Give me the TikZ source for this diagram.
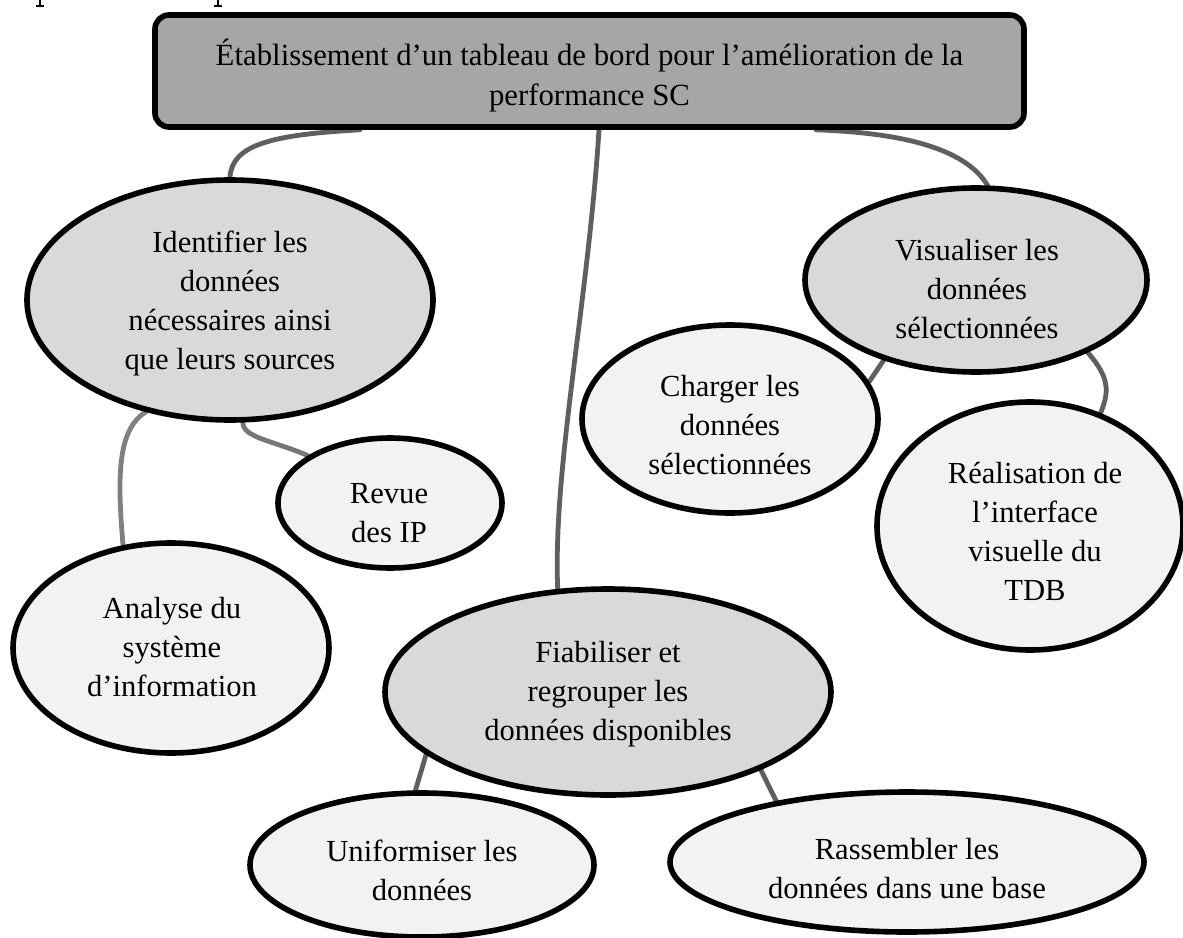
\documentclass[tikz,border=0pt]{standalone}
\usepackage{fontspec}
\setmainfont{Liberation Serif}
\usetikzlibrary{shapes.geometric,backgrounds}

\definecolor{boxgray}{HTML}{A6A6A6}
\definecolor{maingray}{HTML}{D9D9D9}
\definecolor{subgray}{HTML}{F2F2F2}
\definecolor{linkgray}{HTML}{5F5F5F}
\definecolor{lightlink}{HTML}{808080}

\begin{document}
\begin{tikzpicture}[x=0.5pt,y=-0.5pt,
  every node/.style={font=\fontsize{15.3}{19.5}\selectfont},
  titlebox/.style={rectangle,draw=black,line width=2.8pt,fill=boxgray,
    rounded corners=7pt,inner sep=0pt},
  mainell/.style={ellipse,draw=black,line width=2.8pt,fill=maingray,inner sep=0pt},
  subell/.style={ellipse,draw=black,line width=2.8pt,fill=subgray,inner sep=0pt},
  txt/.style={align=center,inner sep=0pt},
  link/.style={draw=linkgray,line width=2.4pt,line cap=round}]

\useasboundingbox (0,0) rectangle (1183,937);

% title box
\node[titlebox,minimum width=434.5pt,minimum height=56pt] (top) at (589.5,71) {};
\node[txt,font=\fontsize{15.4}{20}\selectfont] (top-t) at (589.5,76)
  {Établissement d’un tableau de bord pour l’amélioration de la\\performance SC};

% main tasks
\node[mainell,minimum width=203pt,minimum height=120pt] (ident) at (230,300) {};
\node[txt] (ident-t) at (230,303) {Identifier les\\données\\nécessaires ainsi\\que leurs sources};

\node[mainell,minimum width=171pt,minimum height=92pt] (vis) at (976,280) {};
\node[txt] (vis-t) at (977,289) {Visualiser les\\données\\sélectionnées};

\node[mainell,minimum width=223pt,minimum height=103pt] (fia) at (608,692) {};
\node[txt] (fia-t) at (608,694) {Fiabiliser et\\regrouper les\\données disponibles};

% sub-tasks
\node[subell,minimum width=112pt,minimum height=65pt] (rev) at (390,503) {};
\node[txt] (rev-t) at (389,513) {Revue\\des IP};

\node[subell,minimum width=158pt,minimum height=105pt] (ana) at (171,648) {};
\node[txt] (ana-t) at (172,647) {Analyse du\\système\\d’information};

\node[subell,minimum width=148pt,minimum height=94pt] (chg) at (730,419) {};
\node[txt] (chg-t) at (730,425) {Charger les\\données\\sélectionnées};

\node[subell,minimum width=153pt,minimum height=124pt] (real) at (1030,526) {};
\node[txt] (real-t) at (1035,531) {Réalisation de\\l’interface\\visuelle du\\TDB};

\node[subell,minimum width=172pt,minimum height=72pt] (unif) at (422,865) {};
\node[txt] (unif-t) at (422,870) {Uniformiser les\\données};

\node[subell,minimum width=237pt,minimum height=70pt] (rass) at (907,862) {};
\node[txt] (rass-t) at (907,869) {Rassembler les\\données dans une base};

% connectors, behind the shapes
\begin{pgfonlayer}{background}
  \fill[white] (0,0) rectangle (1183,937);
  \draw[link] ([xshift=-114.75pt]top.south) .. controls +(-90,5) and +(2,-32) .. (ident.90);
  \draw[link] ([xshift=4.75pt]top.south) .. controls +(-11,173) and +(-5,-120) .. (fia.116);
  \draw[link] ([xshift=113.25pt]top.south) .. controls +(84,3) and +(-23,-38) .. (vis.83);
  \draw[link,draw=lightlink] (ident.233) .. controls +(-28,18) and +(-6,-70) .. (ana.115);
  \draw[link,draw=linkgray!85!white] (ident.276) .. controls +(0,15) and +(-35,-15) .. (rev.150);
  \draw[link] (vis.221) -- (chg.15);
  \draw[link] (vis.327) .. controls +(23,26) and +(8,-20) .. (real.58);
  \draw[link] (fia.199) -- (unif.95);
  \draw[link] (fia.333) -- (rass.155);
\end{pgfonlayer}

% descenders of a line of text cut off above
\draw[line width=0.7pt] (40,0) -- (40,6) (36,6) -- (44,6);
\draw[line width=0.7pt] (218,0) -- (218,6) (214,6) -- (222,6);
\end{tikzpicture}
\end{document}
